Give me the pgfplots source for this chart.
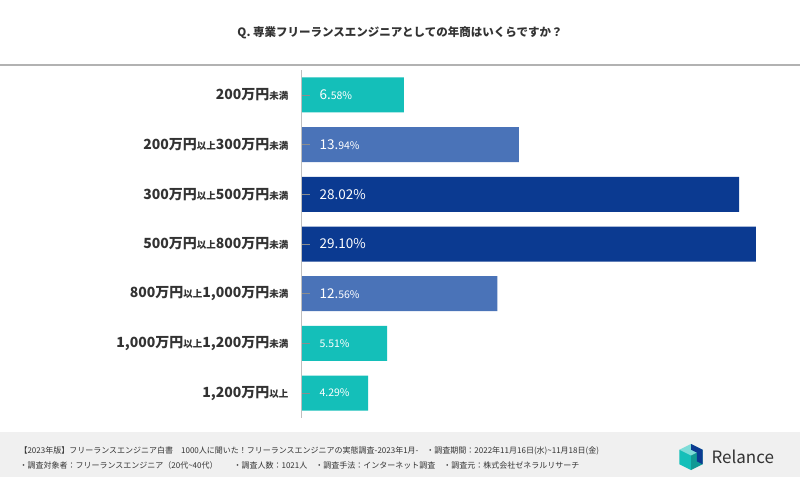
\documentclass[border=0pt]{standalone}
\usepackage{pgfplots}
\pgfplotsset{compat=1.18}
\usepackage{fontspec}
\setmainfont{Noto Sans CJK JP}
\definecolor{tealA}{HTML}{14BFB9}
\definecolor{midB}{HTML}{4A73B8}
\definecolor{darkB}{HTML}{0B3A91}
\definecolor{txt}{HTML}{333333}
\newcommand\s[1]{{\fontsize{9.5}{10}\selectfont #1}}
\newcommand\sm[1]{{\fontsize{10.5}{11}\selectfont #1}}
\begin{document}
\begin{tikzpicture}[x=1pt,y=1pt]
\useasboundingbox (0,0) rectangle (800,477);
\fill[white] (0,0) rectangle (800,477);
% title
\node[text=txt] at (400,444) {\bfseries\fontsize{11.5}{13}\selectfont Q. 専業フリーランスエンジニアとしての年商はいくらですか？};
\draw[line width=2.5pt, black!30] (0,412) -- (800,412);
\begin{axis}[
  at={(301pt,59pt)}, anchor=south west,
  scale only axis, width=469pt, height=348pt,
  xbar, bar width=35pt,
  xmin=0, xmax=30, ymin=0.5, ymax=7.5, y dir=reverse,
  axis x line=none, axis y line*=left,
  axis line style={-, draw=black!25, line width=0.8pt},
  ytick={1,2,3,4,5,6,7},
  yticklabels={{200万円\s{未満}},{200万円\s{以上}300万円\s{未満}},{300万円\s{以上}500万円\s{未満}},{500万円\s{以上}800万円\s{未満}},{800万円\s{以上}1,000万円\s{未満}},{1,000万円\s{以上}1,200万円\s{未満}},{1,200万円\s{以上}}},
  yticklabel style={font=\bfseries\fontsize{14}{15}\selectfont, text=txt, xshift=-9pt},
  tick align=inside, major tick length=9pt,
  ytick style={draw=black!45, line width=0.6pt},
  axis on top,
  clip=false,
]
\addplot[fill=tealA, draw=none, bar shift=0pt] coordinates {(6.58,1) (5.51,6) (4.29,7)};
\addplot[fill=midB, draw=none, bar shift=0pt] coordinates {(13.94,2) (12.56,5)};
\addplot[fill=darkB, draw=none, bar shift=0pt] coordinates {(28.02,3) (29.10,4)};
\begin{scope}[every node/.style={anchor=west, text=white, xshift=15pt, font=\fontsize{13.5}{14}\selectfont}]
\node at (axis cs:0,1) {6.\sm{58\%}};
\node at (axis cs:0,2) {13.\sm{94\%}};
\node at (axis cs:0,3) {28.02\%};
\node at (axis cs:0,4) {29.10\%};
\node at (axis cs:0,5) {12.\sm{56\%}};
\node at (axis cs:0,6) {\sm{5.51\%}};
\node at (axis cs:0,7) {\sm{4.29\%}};
\end{scope}
\end{axis}
% footer
\fill[black!6] (0,0) rectangle (800,45);
\node[anchor=west, text=txt, font=\fontsize{8}{9}\selectfont] at (16,26) {【2023年版】フリーランスエンジニア白書\quad 1000人に聞いた！フリーランスエンジニアの実態調査-2023年1月-\quad ・調査期間：2022年11月16日(水)\textasciitilde 11月18日(金)};
\node[anchor=west, text=txt, font=\fontsize{8}{9}\selectfont] at (16,12) {・調査対象者：フリーランスエンジニア（20代\textasciitilde 40代）\qquad ・調査人数：1021人\quad ・調査手法：インターネット調査\quad ・調査元：株式会社ゼネラルリサーチ};
% logo
\begin{scope}[shift={(691,20)}, scale=1.45]
\fill[tealA!55] (-8,5) -- (0,9) -- (8,5) -- (0,1) -- cycle;
\fill[tealA] (-8,5) -- (0,1) -- (0,-9) -- (-8,-5) -- cycle;
\fill[tealA!80!black] (0,1) -- (8,5) -- (8,-5) -- (0,-9) -- cycle;
\fill[darkB] (0,9) -- (8,5) -- (8,-5) -- (4,-3) -- (4,3) -- (0,5) -- cycle;
\end{scope}
\node[anchor=west, text=txt, font=\fontsize{17}{18}\selectfont] at (708,20) {Relance};
\end{tikzpicture}
\end{document}
